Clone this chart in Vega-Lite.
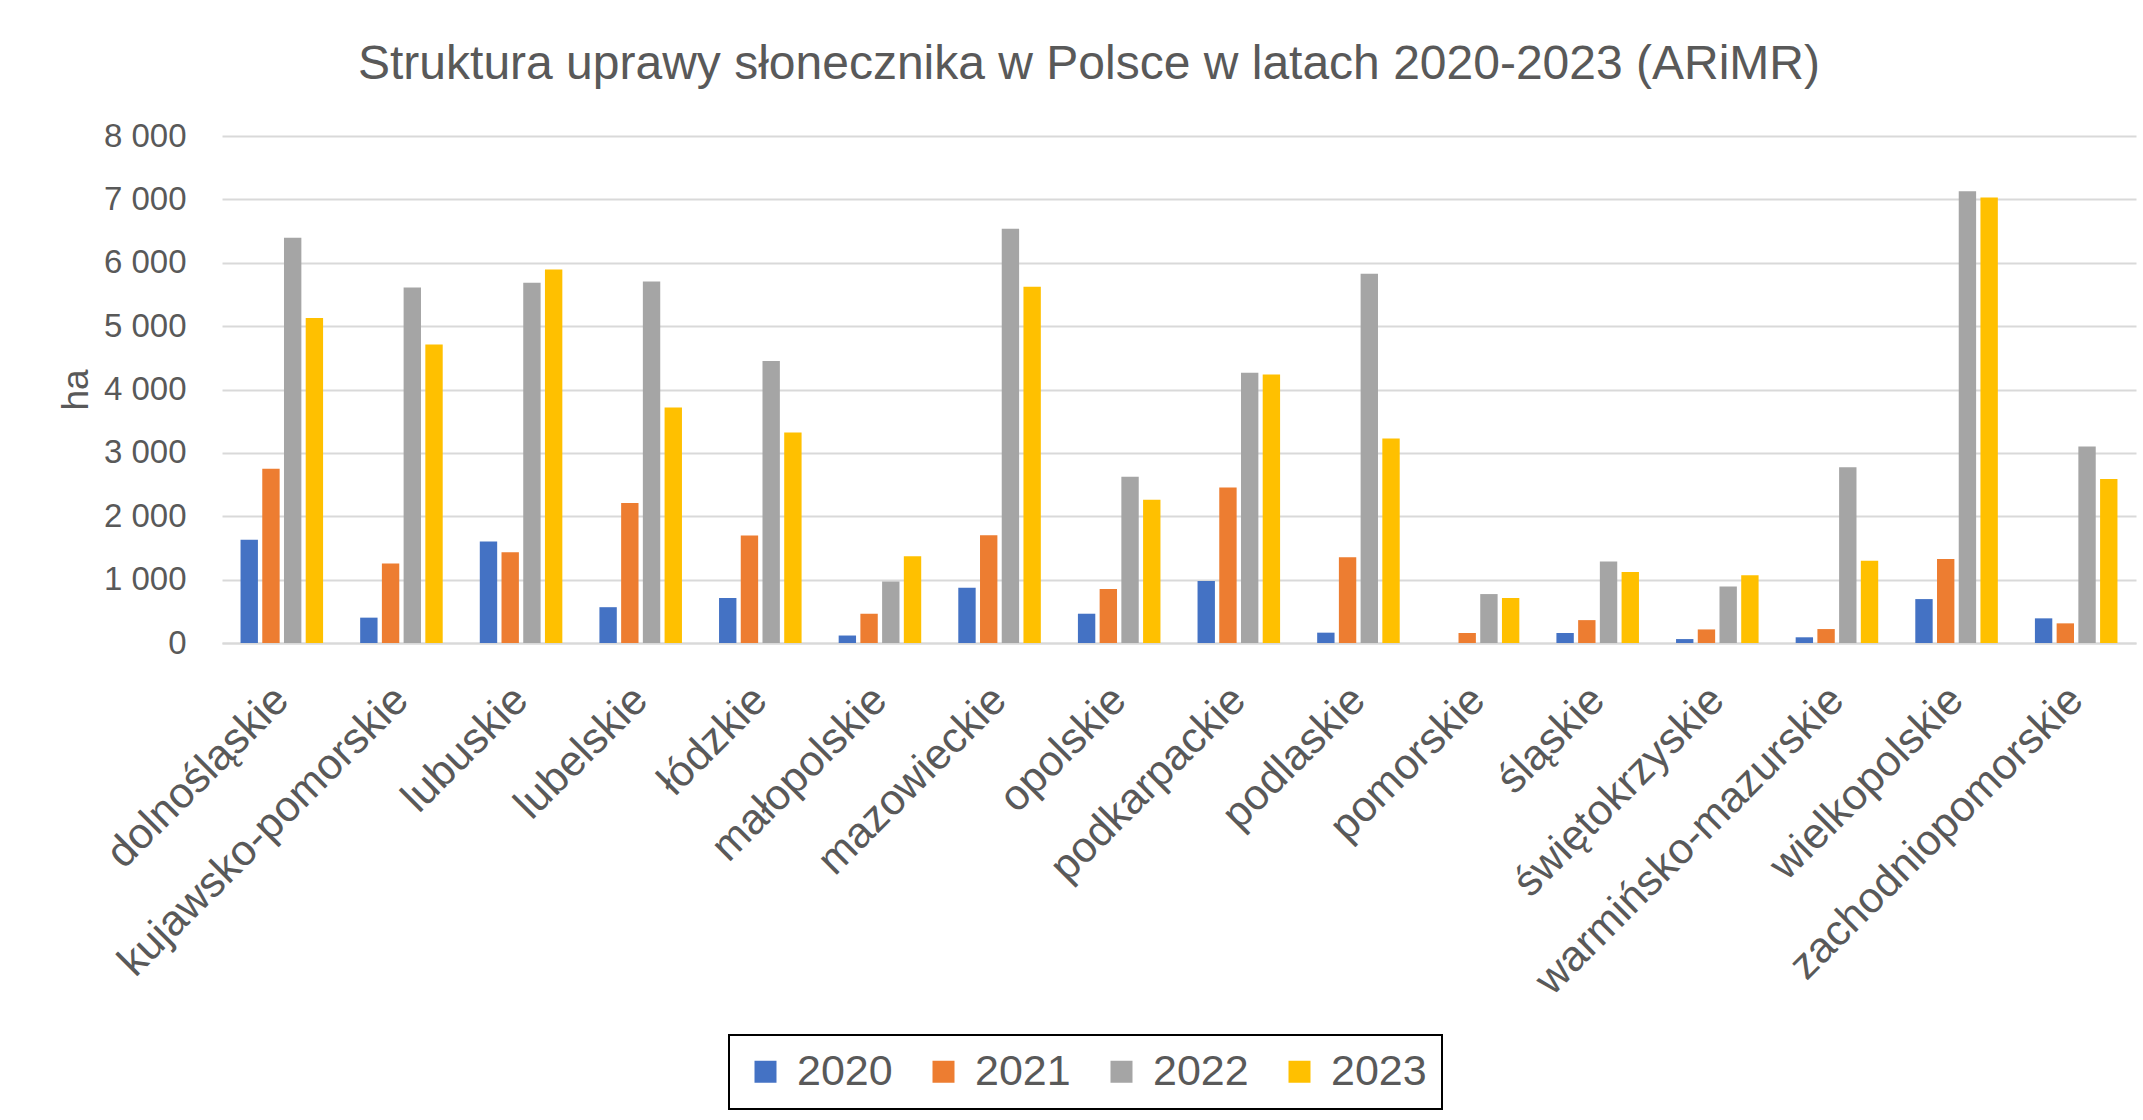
{
  "$schema": "https://vega.github.io/schema/vega-lite/v6.json",
  "width": 1914,
  "height": 507,
  "autosize": {"type": "none"},
  "padding": {"left": 222, "top": 136, "right": 7, "bottom": 477},
  "background": "white",
  "title": {
    "text": "Struktura uprawy słonecznika w Polsce w latach 2020-2023 (ARiMR)",
    "font": "Liberation Sans",
    "fontSize": 48,
    "fontWeight": "normal",
    "color": "#595959",
    "anchor": "middle",
    "dx": -90,
    "offset": 31
  },
  "data": {
    "values": [
      {"region": "dolnośląskie", "year": "2020", "value": 1630},
      {"region": "dolnośląskie", "year": "2021", "value": 2750},
      {"region": "dolnośląskie", "year": "2022", "value": 6395},
      {"region": "dolnośląskie", "year": "2023", "value": 5130},
      {"region": "kujawsko-pomorskie", "year": "2020", "value": 400},
      {"region": "kujawsko-pomorskie", "year": "2021", "value": 1255},
      {"region": "kujawsko-pomorskie", "year": "2022", "value": 5610},
      {"region": "kujawsko-pomorskie", "year": "2023", "value": 4710},
      {"region": "lubuskie", "year": "2020", "value": 1600},
      {"region": "lubuskie", "year": "2021", "value": 1430},
      {"region": "lubuskie", "year": "2022", "value": 5685},
      {"region": "lubuskie", "year": "2023", "value": 5895},
      {"region": "lubelskie", "year": "2020", "value": 565},
      {"region": "lubelskie", "year": "2021", "value": 2210},
      {"region": "lubelskie", "year": "2022", "value": 5705},
      {"region": "lubelskie", "year": "2023", "value": 3715},
      {"region": "łódzkie", "year": "2020", "value": 710},
      {"region": "łódzkie", "year": "2021", "value": 1695},
      {"region": "łódzkie", "year": "2022", "value": 4450},
      {"region": "łódzkie", "year": "2023", "value": 3320},
      {"region": "małopolskie", "year": "2020", "value": 118},
      {"region": "małopolskie", "year": "2021", "value": 462},
      {"region": "małopolskie", "year": "2022", "value": 970},
      {"region": "małopolskie", "year": "2023", "value": 1370},
      {"region": "mazowieckie", "year": "2020", "value": 873},
      {"region": "mazowieckie", "year": "2021", "value": 1700},
      {"region": "mazowieckie", "year": "2022", "value": 6535},
      {"region": "mazowieckie", "year": "2023", "value": 5620},
      {"region": "opolskie", "year": "2020", "value": 462},
      {"region": "opolskie", "year": "2021", "value": 851},
      {"region": "opolskie", "year": "2022", "value": 2625},
      {"region": "opolskie", "year": "2023", "value": 2260},
      {"region": "podkarpackie", "year": "2020", "value": 980},
      {"region": "podkarpackie", "year": "2021", "value": 2455},
      {"region": "podkarpackie", "year": "2022", "value": 4265},
      {"region": "podkarpackie", "year": "2023", "value": 4237},
      {"region": "podlaskie", "year": "2020", "value": 163},
      {"region": "podlaskie", "year": "2021", "value": 1352},
      {"region": "podlaskie", "year": "2022", "value": 5825},
      {"region": "podlaskie", "year": "2023", "value": 3228},
      {"region": "pomorskie", "year": "2020", "value": 0},
      {"region": "pomorskie", "year": "2021", "value": 158},
      {"region": "pomorskie", "year": "2022", "value": 772},
      {"region": "pomorskie", "year": "2023", "value": 710},
      {"region": "śląskie", "year": "2020", "value": 158},
      {"region": "śląskie", "year": "2021", "value": 361},
      {"region": "śląskie", "year": "2022", "value": 1285},
      {"region": "śląskie", "year": "2023", "value": 1121},
      {"region": "świętokrzyskie", "year": "2020", "value": 62},
      {"region": "świętokrzyskie", "year": "2021", "value": 214},
      {"region": "świętokrzyskie", "year": "2022", "value": 890},
      {"region": "świętokrzyskie", "year": "2023", "value": 1070},
      {"region": "warmińsko-mazurskie", "year": "2020", "value": 90},
      {"region": "warmińsko-mazurskie", "year": "2021", "value": 220},
      {"region": "warmińsko-mazurskie", "year": "2022", "value": 2772},
      {"region": "warmińsko-mazurskie", "year": "2023", "value": 1296},
      {"region": "wielkopolskie", "year": "2020", "value": 693},
      {"region": "wielkopolskie", "year": "2021", "value": 1324},
      {"region": "wielkopolskie", "year": "2022", "value": 7127},
      {"region": "wielkopolskie", "year": "2023", "value": 7031},
      {"region": "zachodniopomorskie", "year": "2020", "value": 389},
      {"region": "zachodniopomorskie", "year": "2021", "value": 310},
      {"region": "zachodniopomorskie", "year": "2022", "value": 3099},
      {"region": "zachodniopomorskie", "year": "2023", "value": 2586}
    ]
  },
  "mark": {"type": "bar"},
  "encoding": {
    "x": {
      "field": "region",
      "type": "nominal",
      "sort": null,
      "scale": {"paddingInner": 0.31, "paddingOuter": 0.155},
      "axis": {
        "title": null,
        "labelAngle": -45,
        "labelAlign": "right",
        "labelBaseline": "middle",
        "labelFont": "Liberation Sans",
        "labelFontSize": 43,
        "labelColor": "#595959",
        "labelPadding": 50,
        "labelLimit": 0,
        "labelOverlap": false,
        "ticks": false,
        "domain": true,
        "domainColor": "#D9D9D9",
        "domainWidth": 2
      }
    },
    "xOffset": {
      "field": "year",
      "type": "nominal",
      "scale": {"paddingInner": 0.2, "paddingOuter": 0}
    },
    "y": {
      "field": "value",
      "type": "quantitative",
      "scale": {"domain": [0, 8000], "nice": false},
      "axis": {
        "values": [0, 1000, 2000, 3000, 4000, 5000, 6000, 7000, 8000],
        "labelExpr": "replace(format(datum.value, ',d'), ',', ' ')",
        "labelFont": "Liberation Sans",
        "labelFontSize": 33,
        "labelColor": "#595959",
        "labelPadding": 36,
        "ticks": false,
        "domain": false,
        "grid": true,
        "gridColor": "#D9D9D9",
        "gridWidth": 2,
        "title": "ha",
        "titleFont": "Liberation Sans",
        "titleFontSize": 37,
        "titleFontWeight": "normal",
        "titleColor": "#595959",
        "titlePadding": 8
      }
    },
    "color": {
      "field": "year",
      "type": "nominal",
      "scale": {
        "domain": ["2020", "2021", "2022", "2023"],
        "range": ["#4472C4", "#ED7D31", "#A5A5A5", "#FFC000"]
      },
      "legend": {
        "title": null,
        "orient": "none",
        "legendX": 507,
        "legendY": 899,
        "direction": "horizontal",
        "columns": 4,
        "symbolType": "square",
        "symbolSize": 484,
        "symbolStrokeWidth": 0,
        "labelFont": "Liberation Sans",
        "labelFontSize": 43,
        "labelColor": "#595959",
        "labelOffset": 10,
        "columnPadding": 29,
        "padding": 15,
        "strokeColor": "black",
        "fillColor": "white"
      }
    }
  },
  "config": {
    "view": {"stroke": null},
    "legend": {"strokeWidth": 2}
  }
}
